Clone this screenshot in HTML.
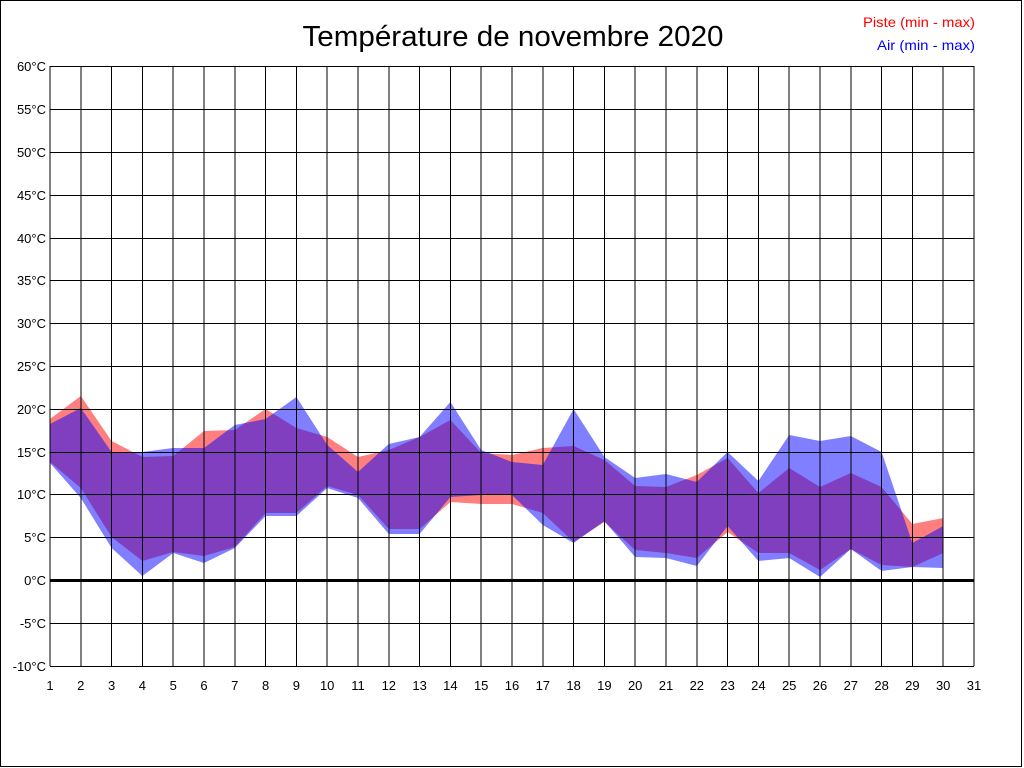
<!DOCTYPE html>
<html><head><meta charset="utf-8"><style>
html,body{margin:0;padding:0;background:#fff;}
svg{display:block;font-family:"Liberation Sans",sans-serif;}
</style></head><body>
<svg width="1024" height="768" viewBox="0 0 1024 768" xmlns="http://www.w3.org/2000/svg">
<rect x="0.5" y="0.5" width="1021" height="766" fill="#fff" stroke="#000"/>
<text x="513" y="46" font-size="29" text-anchor="middle" textLength="421" lengthAdjust="spacingAndGlyphs">Température de novembre 2020</text>
<text x="975" y="27" font-size="14" fill="#f00" text-anchor="end" textLength="112" lengthAdjust="spacingAndGlyphs">Piste (min - max)</text>
<text x="975" y="50" font-size="14" fill="#00f" text-anchor="end" textLength="98" lengthAdjust="spacingAndGlyphs">Air (min - max)</text>

<polygon fill="rgba(255,0,0,0.5)" points="50,419 80.8,396 111.6,441 142.4,457 173.2,456 204,431 234.8,430 265.6,409 296.4,428 327.2,437 358,457 388.8,450 419.6,437 450.4,420 481.2,453 512,455 542.8,448 573.6,446 604.4,460 635.2,486 666,487 696.8,475 727.6,458 758.4,493 789.2,468 820,487 850.8,473 881.6,487 912.4,524 943.2,518 943.2,553 912.4,567 881.6,565 850.8,549 820,570 789.2,553 758.4,553 727.6,532 696.8,558 666,553 635.2,550 604.4,522 573.6,542 542.8,513 512,504 481.2,504 450.4,502 419.6,529 388.8,529 358,495 327.2,486 296.4,513 265.6,513 234.8,547 204,556 173.2,552 142.4,561 111.6,537 80.8,488 50,462"/>
<polygon fill="rgba(0,0,255,0.5)" points="50,424 80.8,408 111.6,452 142.4,452 173.2,448 204,448 234.8,425 265.6,419 296.4,397 327.2,445 358,472 388.8,444 419.6,437 450.4,402 481.2,450 512,462 542.8,465 573.6,409 604.4,457 635.2,478 666,474 696.8,482 727.6,452 758.4,481 789.2,435 820,441 850.8,436 881.6,452 912.4,543 943.2,526 943.2,568 912.4,567 881.6,571 850.8,549 820,577 789.2,558 758.4,561 727.6,526 696.8,566 666,558 635.2,557 604.4,521 573.6,543 542.8,525 512,495 481.2,495 450.4,497 419.6,534 388.8,534 358,498 327.2,488 296.4,516 265.6,516 234.8,548 204,563 173.2,553 142.4,576 111.6,548 80.8,498 50,463"/>

<g stroke="#000" stroke-width="1" shape-rendering="crispEdges">
<line x1="50" y1="66.5" x2="974" y2="66.5"/><line x1="50" y1="109.5" x2="974" y2="109.5"/><line x1="50" y1="152.5" x2="974" y2="152.5"/><line x1="50" y1="195.5" x2="974" y2="195.5"/><line x1="50" y1="238.5" x2="974" y2="238.5"/><line x1="50" y1="280.5" x2="974" y2="280.5"/><line x1="50" y1="323.5" x2="974" y2="323.5"/><line x1="50" y1="366.5" x2="974" y2="366.5"/><line x1="50" y1="409.5" x2="974" y2="409.5"/><line x1="50" y1="452.5" x2="974" y2="452.5"/><line x1="50" y1="494.5" x2="974" y2="494.5"/><line x1="50" y1="537.5" x2="974" y2="537.5"/><line x1="50" y1="623.5" x2="974" y2="623.5"/><line x1="50" y1="666.5" x2="974" y2="666.5"/>
<line x1="50" y1="66" x2="50" y2="666"/><line x1="80.8" y1="66" x2="80.8" y2="666"/><line x1="111.6" y1="66" x2="111.6" y2="666"/><line x1="142.4" y1="66" x2="142.4" y2="666"/><line x1="173.2" y1="66" x2="173.2" y2="666"/><line x1="204" y1="66" x2="204" y2="666"/><line x1="234.8" y1="66" x2="234.8" y2="666"/><line x1="265.6" y1="66" x2="265.6" y2="666"/><line x1="296.4" y1="66" x2="296.4" y2="666"/><line x1="327.2" y1="66" x2="327.2" y2="666"/><line x1="358" y1="66" x2="358" y2="666"/><line x1="388.8" y1="66" x2="388.8" y2="666"/><line x1="419.6" y1="66" x2="419.6" y2="666"/><line x1="450.4" y1="66" x2="450.4" y2="666"/><line x1="481.2" y1="66" x2="481.2" y2="666"/><line x1="512" y1="66" x2="512" y2="666"/><line x1="542.8" y1="66" x2="542.8" y2="666"/><line x1="573.6" y1="66" x2="573.6" y2="666"/><line x1="604.4" y1="66" x2="604.4" y2="666"/><line x1="635.2" y1="66" x2="635.2" y2="666"/><line x1="666" y1="66" x2="666" y2="666"/><line x1="696.8" y1="66" x2="696.8" y2="666"/><line x1="727.6" y1="66" x2="727.6" y2="666"/><line x1="758.4" y1="66" x2="758.4" y2="666"/><line x1="789.2" y1="66" x2="789.2" y2="666"/><line x1="820" y1="66" x2="820" y2="666"/><line x1="850.8" y1="66" x2="850.8" y2="666"/><line x1="881.6" y1="66" x2="881.6" y2="666"/><line x1="912.4" y1="66" x2="912.4" y2="666"/><line x1="943.2" y1="66" x2="943.2" y2="666"/><line x1="974" y1="66" x2="974" y2="666"/>
</g>
<rect x="50" y="579" width="924" height="3" fill="#000"/>

<g font-size="13" text-anchor="end" fill="#000">
<text x="46" y="71">60°C</text><text x="46" y="114">55°C</text><text x="46" y="157">50°C</text><text x="46" y="200">45°C</text><text x="46" y="243">40°C</text><text x="46" y="285">35°C</text><text x="46" y="328">30°C</text><text x="46" y="371">25°C</text><text x="46" y="414">20°C</text><text x="46" y="457">15°C</text><text x="46" y="499">10°C</text><text x="46" y="542">5°C</text><text x="46" y="585">0°C</text><text x="46" y="628">-5°C</text><text x="46" y="671">-10°C</text>
</g>
<g font-size="13" text-anchor="middle" fill="#000">
<text x="50" y="690">1</text><text x="80.8" y="690">2</text><text x="111.6" y="690">3</text><text x="142.4" y="690">4</text><text x="173.2" y="690">5</text><text x="204" y="690">6</text><text x="234.8" y="690">7</text><text x="265.6" y="690">8</text><text x="296.4" y="690">9</text><text x="327.2" y="690">10</text><text x="358" y="690">11</text><text x="388.8" y="690">12</text><text x="419.6" y="690">13</text><text x="450.4" y="690">14</text><text x="481.2" y="690">15</text><text x="512" y="690">16</text><text x="542.8" y="690">17</text><text x="573.6" y="690">18</text><text x="604.4" y="690">19</text><text x="635.2" y="690">20</text><text x="666" y="690">21</text><text x="696.8" y="690">22</text><text x="727.6" y="690">23</text><text x="758.4" y="690">24</text><text x="789.2" y="690">25</text><text x="820" y="690">26</text><text x="850.8" y="690">27</text><text x="881.6" y="690">28</text><text x="912.4" y="690">29</text><text x="943.2" y="690">30</text><text x="974" y="690">31</text>
</g>
</svg>
</body></html>
